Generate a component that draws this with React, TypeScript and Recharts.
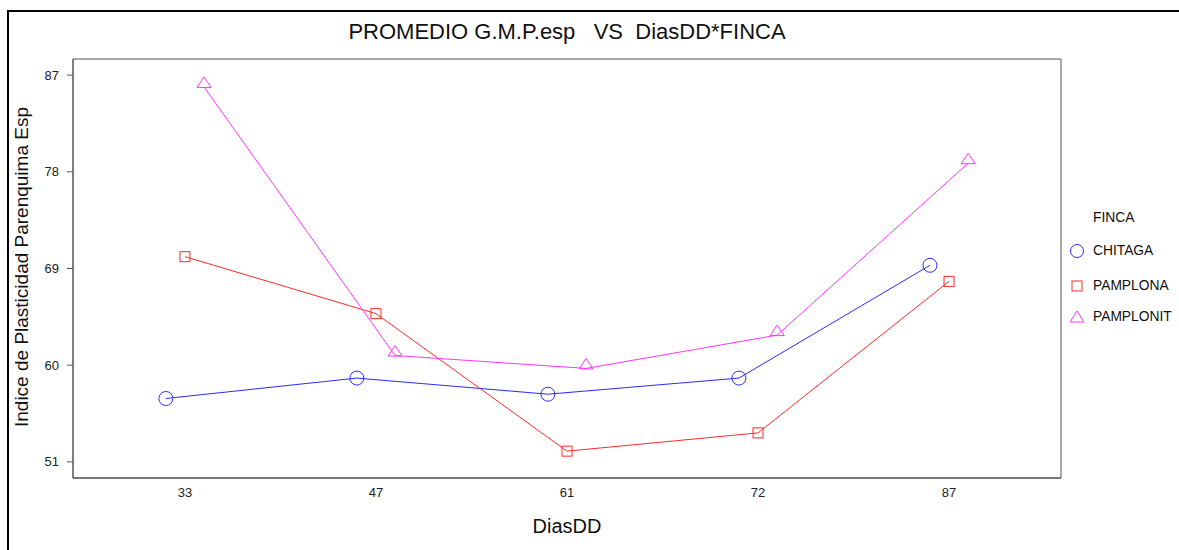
import React, { useLayoutEffect } from "react"
import { LineChart, Line, XAxis, YAxis, ReferenceArea } from "recharts"

// DiasDD categories and mean values per FINCA
const dias = ["33", "47", "61", "72", "87"]
const chitaga = [56.9, 58.8, 57.3, 58.8, 69.3]
const pamplona = [70.1, 64.8, 52.0, 53.7, 67.8]
const pamplonit = [85.9, 60.9, 59.7, 62.8, 78.8]
const yTicks = [51, 60, 69, 78, 87]

const BLUE = "#2a2aff"
const RED = "#ff2a2a"
const MAGENTA = "#ff33ff"

// points are dodged slightly around each category
const toSeries = (vals: number[], shift: number) =>
    vals.map((y, i) => ({ x: i + shift, y, label: dias[i] }))

const chitagaData = toSeries(chitaga, -0.1)
const pamplonaData = toSeries(pamplona, 0)
const pamplonitData = toSeries(pamplonit, 0.1)

const X_MIN = -0.586
const X_MAX = 4.586
const Y_MIN = 49.5
const Y_MAX = 88.5

const CircleDot = (props: any) => {
    const { cx, cy } = props
    if (cx == null || cy == null) return null
    return <circle cx={cx} cy={cy} r={7} fill="none" stroke={BLUE} strokeWidth={1} />
}

const SquareDot = (props: any) => {
    const { cx, cy } = props
    if (cx == null || cy == null) return null
    return <rect x={cx - 5} y={cy - 5} width={10} height={10} fill="none" stroke={RED} strokeWidth={1} />
}

const TriangleDot = (props: any) => {
    const { cx, cy } = props
    if (cx == null || cy == null) return null
    return (
        <polygon
            points={`${cx},${cy - 10} ${cx - 7},${cy + 0.5} ${cx + 7},${cy + 0.5}`}
            fill="none"
            stroke={MAGENTA}
            strokeWidth={1}
        />
    )
}

const font = '"Liberation Sans", Arial, sans-serif'

export default function App() {
    // keep the page free of scrollbars
    useLayoutEffect(() => {
        document.documentElement.style.overflow = "hidden"
        document.body.style.overflow = "hidden"
    }, [])

    return (
        <div style={{ position: "fixed", left: 0, top: 0, width: 1179, height: 550, overflow: "hidden", background: "#fff" }}>
            {/* outer frame: top and left edges only */}
            <div style={{ position: "absolute", left: 7, top: 10, width: 1172, height: 2, background: "#000" }} />
            <div style={{ position: "absolute", left: 7, top: 10, width: 2, height: 540, background: "#000" }} />
            <div style={{ position: "absolute", left: 8, top: 8, width: 1171, height: 542, fontFamily: font, color: "#111" }}>
                <div
                    style={{
                        position: "absolute",
                        left: 0,
                        width: 1118,
                        top: 11,
                        lineHeight: "26px",
                        fontSize: 22,
                        textAlign: "center",
                        whiteSpace: "pre",
                    }}
                >
                    {"PROMEDIO G.M.P.esp   VS  DiasDD*FINCA"}
                </div>
                <div
                    style={{
                        position: "absolute",
                        left: 14,
                        top: 259,
                        fontSize: 19,
                        whiteSpace: "nowrap",
                        transform: "translate(-50%, -50%) rotate(-90deg)",
                    }}
                >
                    Indice de Plasticidad Parenquima Esp
                </div>
                <div
                    style={{
                        position: "absolute",
                        left: 0,
                        width: 1118,
                        top: 507,
                        lineHeight: "22px",
                        fontSize: 20,
                        textAlign: "center",
                    }}
                >
                    DiasDD
                </div>

                <LineChart width={1150} height={542} margin={{ top: 51, right: 97, bottom: 42, left: 25 }}>
                    <XAxis
                        dataKey="x"
                        type="number"
                        domain={[X_MIN, X_MAX]}
                        ticks={[0, 1, 2, 3, 4]}
                        tickFormatter={(i: number) => dias[i]}
                        allowDataOverflow
                        tickLine={false}
                        tickMargin={4}
                        stroke="#444"
                        tick={{ fill: "#222", fontSize: 13, fontFamily: font }}
                        height={30}
                    />
                    <YAxis
                        type="number"
                        domain={[Y_MIN, Y_MAX]}
                        ticks={yTicks}
                        allowDataOverflow
                        width={40}
                        tickSize={6}
                        tickMargin={8}
                        stroke="#555"
                        tick={{ fill: "#222", fontSize: 13, fontFamily: font }}
                    />
                    <ReferenceArea
                        x1={X_MIN}
                        x2={X_MAX}
                        y1={Y_MIN}
                        y2={Y_MAX}
                        fill="none"
                        stroke="#555"
                        strokeWidth={1}
                        ifOverflow="visible"
                    />
                    <Line
                        data={chitagaData}
                        dataKey="y"
                        name="CHITAGA"
                        stroke={BLUE}
                        strokeWidth={1}
                        dot={<CircleDot />}
                        activeDot={false}
                        isAnimationActive={false}
                    />
                    <Line
                        data={pamplonaData}
                        dataKey="y"
                        name="PAMPLONA"
                        stroke={RED}
                        strokeWidth={1}
                        dot={<SquareDot />}
                        activeDot={false}
                        isAnimationActive={false}
                    />
                    <Line
                        data={pamplonitData}
                        dataKey="y"
                        name="PAMPLONIT"
                        stroke={MAGENTA}
                        strokeWidth={1}
                        dot={<TriangleDot />}
                        activeDot={false}
                        isAnimationActive={false}
                    />
                </LineChart>

                {/* legend */}
                <div style={{ position: "absolute", left: 1085, top: 202, fontSize: 13.8, lineHeight: "16px" }}>FINCA</div>
                {[
                    { name: "CHITAGA", y: 243, kind: "circle" },
                    { name: "PAMPLONA", y: 278, kind: "square" },
                    { name: "PAMPLONIT", y: 309, kind: "triangle" },
                ].map((it) => (
                    <div key={it.name} style={{ position: "absolute", left: 1061, top: it.y - 8, height: 16, display: "flex", alignItems: "center", whiteSpace: "nowrap" }}>
                        <svg width={16} height={16} style={{ display: "block" }}>
                            {it.kind === "circle" && <circle cx={8} cy={8} r={6.5} fill="none" stroke={BLUE} />}
                            {it.kind === "square" && <rect x={3} y={3} width={10} height={10} fill="none" stroke={RED} />}
                            {it.kind === "triangle" && <polygon points="8,2 1,13 15,13" fill="none" stroke={MAGENTA} />}
                        </svg>
                        <span style={{ marginLeft: 8, fontSize: 13.8, lineHeight: "16px" }}>{it.name}</span>
                    </div>
                ))}
            </div>
        </div>
    )
}
